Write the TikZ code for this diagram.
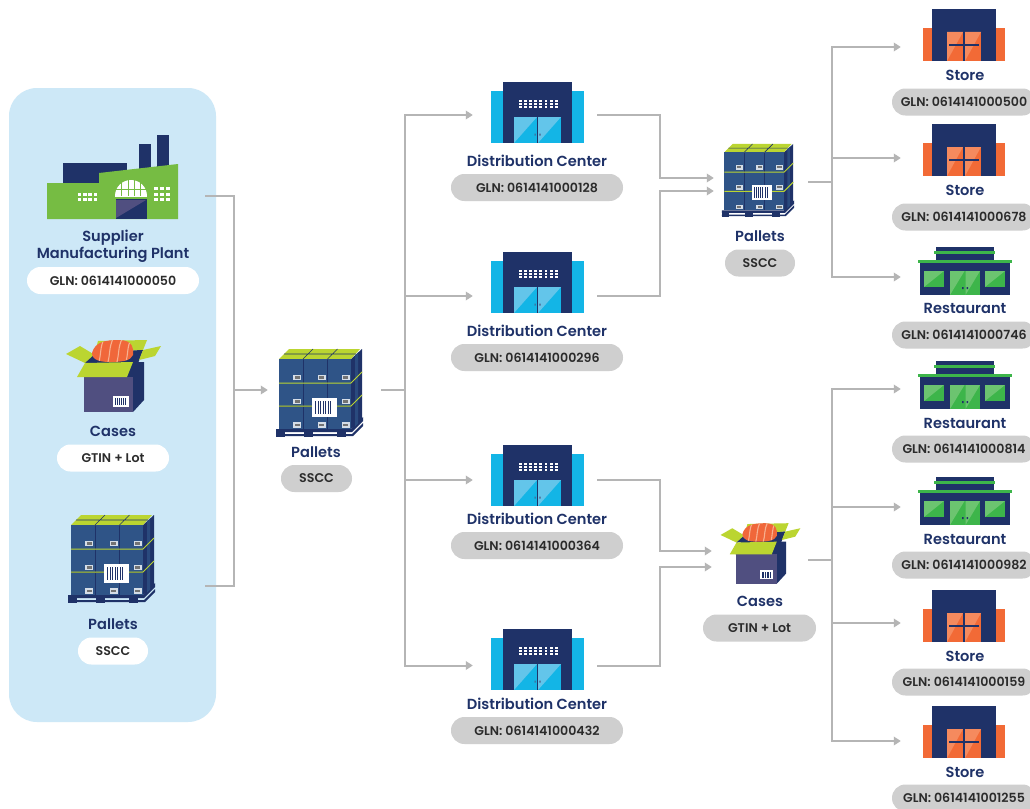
\documentclass[tikz,border=0pt]{standalone}
\usepackage{fontspec}
\setmainfont{Poppins}[BoldFont={Poppins SemiBold}]
\usetikzlibrary{arrows.meta}
\definecolor{panel}{HTML}{CDE8F7}
\definecolor{navy}{HTML}{1F3268}
\definecolor{pillgrey}{HTML}{CFCFCF}
\definecolor{pilltext}{HTML}{2B2B2B}
\definecolor{linegrey}{HTML}{B5B5B5}
\definecolor{facgreen}{HTML}{76BC43}
\definecolor{lime}{HTML}{BBD531}
\definecolor{purplebox}{HTML}{504F80}
\definecolor{palblue}{HTML}{2F5487}
\definecolor{dcblue}{HTML}{13B5E6}
\definecolor{dclight}{HTML}{63C5EA}
\definecolor{storeor}{HTML}{F26A36}
\definecolor{storelt}{HTML}{F58A5E}
\definecolor{salmon}{HTML}{F0673A}
\definecolor{salmonlt}{HTML}{F7B08F}
\definecolor{rgreen}{HTML}{3DB54A}
\definecolor{rlight}{HTML}{6CC470}
\tikzset{
  x=1pt,y=-1pt,
  title/.style={font=\bfseries\fontsize{14.6}{17}\selectfont,text=navy,inner sep=0pt,align=center},
  pilltxt/.style={font=\bfseries\fontsize{12.6}{14}\selectfont,text=pilltext,inner sep=0pt,minimum height=27pt,rounded corners=13.4pt},
  greypill/.style={pilltxt,fill=pillgrey},
  whitepill/.style={pilltxt,fill=white},
  hub/.style={inner sep=0pt,minimum height=40pt},
  conn/.style={draw=linegrey,line width=2pt},
  arrowed/.style={conn,-{Triangle[length=7pt,width=8.5pt]}},
  pics/dcicon/.style={code={
    \fill[dcblue] (-46.5,-52) rectangle (46.5,0);
    \fill[navy] (-34.5,-61) rectangle (34.5,0);
    \fill[dcblue] (-23.5,-26) rectangle (23.5,0);
    \fill[dclight] (-23.5,0) -- (-23.5,-26) -- (-0.5,-26) -- cycle;
    \fill[dclight] (0.5,0) -- (0.5,-26) -- (23.5,-26) -- cycle;
    \fill[navy] (-0.4,-26) rectangle (0.4,0);
    \fill[navy!80] (-3,-9.5) rectangle (-1.8,-7.5) (1.8,-9.5) rectangle (3,-7.5);
    \foreach \i in {0,...,7}{\foreach \j in {0,1,2}{
      \fill[white] (-18.5+\i*5.1,-43+\j*3) rectangle ++(2.9,2);}}
  }},
  pics/storeicon/.style={code={
    \fill[storeor] (-41,-33) rectangle (41,0);
    \fill[navy] (-32,-52) rectangle (32,0);
    \fill[storeor] (-17,-29) rectangle (17,0);
    \fill[storelt] (-17,0) -- (-17,-29) -- (-1,-29) -- cycle;
    \fill[storelt] (1,0) -- (1,-29) -- (17,-29) -- cycle;
    \fill[navy] (-0.8,-29) rectangle (0.8,0);
    \fill[navy] (-15,-16.6) rectangle (15,-15.4);
  }},
  pics/resticon/.style={code={
    \fill[navy] (-29,-48) rectangle (29,-35);
    \fill[rgreen] (-31,-44) rectangle (30,-41);
    \fill[navy] (-45,-33) rectangle (45,0);
    \fill[rgreen] (-47,-35) rectangle (47,-32);
    \foreach \a in {-41,20}{
      \fill[rgreen] (\a,-24) rectangle ++(20,16);
      \fill[rlight] (\a,-8) -- (\a,-24) -- (\a+20,-24) -- cycle;}
    \fill[rgreen] (-15,-24) rectangle (15,0);
    \fill[rlight] (-15,0) -- (-15,-24) -- (-0.5,-24) -- cycle;
    \fill[rlight] (0.5,0) -- (0.5,-24) -- (15,-24) -- cycle;
    \fill[navy] (-3,-8) rectangle (-1.5,-6) (1.5,-8) rectangle (3,-6);
  }},
  pics/factoryicon/.style={code={
    \fill[navy] (63,163) rectangle (127,185);
    \fill[navy] (139,144) rectangle (151,172);
    \fill[navy] (157,135) rectangle (169,170);
    \fill[facgreen] (47,183) -- (99,183) -- (99,173) -- (178,164) -- (178,219) -- (47,219) -- cycle;
    \begin{scope}
      \clip (115,196) rectangle (147,180);
      \fill[white] (131,196) ellipse [x radius=16,y radius=16];
    \end{scope}
    \draw[facgreen,line width=.9pt] (115,189) -- (147,189) (121.5,178) -- (121.5,196) (128,178) -- (128,196) (134,178) -- (134,196) (140.5,178) -- (140.5,196);
    \fill[navy] (116,199) rectangle (147,219);
    \fill[purplebox] (116,218) -- (116,200) -- (146,200) -- cycle;
    \foreach \i in {0,...,3}{\foreach \j in {0,1}{
      \fill[white] (78+\i*5.2,193+\j*5) rectangle ++(3.4,3);}}
    \foreach \i in {0,1,2}{\foreach \j in {0,1,2}{
      \fill[white] (154+\i*6,187+\j*5.5) rectangle ++(3.6,3.4);}}
  }},
  pics/boxicon/.style={code={
    \fill[navy] (-18,-33) -- (30,-35) -- (20,-8) -- (-29,-8) -- cycle;
    \fill[lime] (-47,-31) -- (-33,-39) -- (-18,-30) -- (-28,-22) -- cycle;
    \fill[lime] (-15,-44) -- (34,-45) -- (30,-35) -- (-18,-33) -- cycle;
    \fill[lime] (30,-35) -- (48,-39) -- (42,-29) -- (26,-25) -- cycle;
    \fill[navy] (-18,-31) -- (30,-35) -- (20,-23) -- (-28,-22) -- cycle;
    \begin{scope}
      \clip (-21,-32) .. controls (-18,-43) and (-8,-45) .. (6,-45) .. controls (20,-45) and (21,-36) .. (20,-30) .. controls (18,-24) and (8,-23) .. (-3,-23) .. controls (-13,-23) and (-21,-25) .. (-21,-32) -- cycle;
      \fill[salmon] (-22,-46) rectangle (22,-22);
      \foreach \a in {-14,-5,4,13}{
        \draw[salmonlt,line width=1.1pt] (\a,-23) .. controls (\a+2,-30) and (\a+1,-38) .. (\a+5,-46);}
    \end{scope}
    \fill[navy] (20,-23) -- (31,-23) -- (31,15) -- (20,27) -- (20,-8) -- cycle;
    \fill[purplebox] (-29,-8) rectangle (20,27);
    \fill[lime] (-29,-8) -- (-36,-8) -- (-28,-22) -- (20,-23) -- (14,-8) -- cycle;
    \fill[white] (0,11) rectangle (16,22);
    \foreach \k in {2,4,...,13}{\fill[navy] (\k,13) rectangle ++(1,7);}
  }},
  pics/palleticon/.style={code={
    % pallet base
    \fill[navy] (-40,39) -- (35,39) -- (47,27) -- (47,31) -- (36,42) -- (-40,42) -- cycle;
    \fill[navy] (-40,44) -- (36,44) -- (47,33) -- (47,36) -- (37,46) -- (-40,46) -- cycle;
    \foreach \a in {-40,-12,21}{\fill[navy] (\a,41) rectangle ++(9,6);}
    % side and top
    \fill[navy] (-37,-31) rectangle (35,39);
    \fill[navy] (35,-31) -- (46,-41) -- (46,30) -- (35,39) -- cycle;
    \fill[palblue!70!navy] (39,-34.5) -- (42,-37.5) -- (42,33.5) -- (39,36.5) -- cycle;
    \fill[lime] (-37,-31) -- (-27,-41) -- (44,-41) -- (35,-31) -- cycle;
    \draw[navy,line width=.6pt] (-13,-31) -- (-3,-41) (11.5,-31) -- (21.5,-41) (-32,-36) -- (40,-36);
    \foreach \c/\w in {-37/24,-12.5/23.5,11.5/23.5}{
      \foreach \r/\h in {-31/23.5,-7/23,16.5/22.5}{
        \fill[palblue] (\c,\r) rectangle ++(\w,\h);
        \fill[white!80!palblue] (\c+14,\r+15.5) rectangle ++(8,5.5);
        \fill[black!55] (\c+15.5,\r+17) rectangle ++(5,2.5);
      }}
    \draw[lime,line width=1pt] (-37,-7) -- (35,-7) -- (46,-18) (-37,16) -- (35,16) -- (46,5);
    \fill[white] (-4,8) rectangle (21,27);
    \foreach \k in {-1,1.5,...,16}{\fill[navy] (\k,11) rectangle ++(1.2,13);}
  }},
}
\begin{document}
\begin{tikzpicture}
\useasboundingbox (0,0) rectangle (1030,808);
\clip (0,0) rectangle (1030,808);
\fill[white] (0,0) rectangle (1030,808);
\fill[panel,rounded corners=28pt] (9,88) rectangle (216,722);

% icons
\pic at (0,0) {factoryicon};
\pic at (113,385) {boxicon};
\pic at (108,556) {palleticon};
\pic at (316,390) {palleticon};
\pic at (537.5,143) {dcicon};
\pic at (537.5,313) {dcicon};
\pic at (537.5,506) {dcicon};
\pic at (537.5,690) {dcicon};
\pic[scale=.83] at (755,178) {palleticon};
\pic[scale=.84] at (760,561) {boxicon};
\pic at (964,61) {storeicon};
\pic at (964,176) {storeicon};
\pic at (965,295) {resticon};
\pic at (965,409) {resticon};
\pic at (965,525) {resticon};
\pic at (964,642) {storeicon};
\pic at (964,758) {storeicon};

% connector anchors (invisible nodes)
\node[hub,minimum width=184pt] (plant) at (113,196) {};
\node[hub,minimum width=184pt] (palL) at (113,586) {};
\node[hub,minimum width=113pt] (pal0) at (324.5,390) {};
\node[hub,minimum width=124pt] (dc1) at (535,115) {};
\node[hub,minimum width=124pt] (dc2) at (535,296) {};
\node[hub,minimum width=124pt] (dc3) at (535,480) {};
\node[hub,minimum width=124pt] (dc4) at (535,665.5) {};
\node[hub,minimum width=94pt] (pal1) at (761,182) {};
\node[hub,minimum width=96pt] (cas1) at (760,560) {};
\node[hub,minimum width=126pt] (s1) at (964,47) {};
\node[hub,minimum width=126pt] (s2) at (964,158) {};
\node[hub,minimum width=126pt] (s3) at (964,277) {};
\node[hub,minimum width=126pt] (s4) at (964,389) {};
\node[hub,minimum width=126pt] (s5) at (964,507) {};
\node[hub,minimum width=126pt] (s6) at (964,623) {};
\node[hub,minimum width=126pt] (s7) at (964,741) {};
\coordinate (busL) at (234,390);
\coordinate (bus1) at (405,390);
\coordinate (m1) at (660,146);
\coordinate (m2) at (660,245);
\coordinate (m3) at (660,515);
\coordinate (m4) at (660,615);
\coordinate (bus2) at (832,182);
\coordinate (bus3) at (832,560);

% connectors
\draw[conn] (plant.east) -| (busL);
\draw[conn] (palL.east) -| (busL);
\draw[arrowed] (busL) -- (pal0.west);
\draw[conn] (pal0.east) -- (bus1);
\foreach \n in {dc1,dc2,dc3,dc4}{\draw[arrowed] (bus1) |- (\n.west);}
\draw[arrowed] (dc1.east) -| (m1) |- ([yshift=4pt]pal1.west);
\draw[arrowed] (dc2.east) -| (m2) |- ([yshift=-9pt]pal1.west);
\draw[arrowed] (dc3.east) -| (m3) |- ([yshift=9pt]cas1.west);
\draw[arrowed] (dc4.east) -| (m4) |- ([yshift=-7pt]cas1.west);
\draw[conn] (pal1.east) -- (bus2);
\draw[conn] (cas1.east) -- (bus3);
\foreach \n in {s1,s2,s3}{\draw[arrowed] (bus2) |- (\n.west);}
\foreach \n in {s4,s5,s6,s7}{\draw[arrowed] (bus3) |- (\n.west);}

% labels
\node[title] (t1) at (113,246.5) {Supplier\\Manufacturing Plant};
\node[whitepill,minimum width=172pt] (p1) at (113,280.5) {GLN: 0614141000050};
\node[title] (t2) at (113,431) {Cases};
\node[whitepill,minimum width=112pt] (p2) at (113,458) {GTIN + Lot};
\node[title] (t3) at (113,624) {Pallets};
\node[whitepill,minimum width=70pt] (p3) at (113,651) {SSCC};
\node[title] (t4) at (316,452) {Pallets};
\node[greypill,minimum width=71pt] (p4) at (316.5,478.5) {SSCC};
\node[title] (t5) at (537,160.5) {Distribution Center};
\node[greypill,minimum width=172pt] (p5) at (537,187.5) {GLN: 0614141000128};
\node[title] (t6) at (537,330.5) {Distribution Center};
\node[greypill,minimum width=172pt] (p6) at (537,357.5) {GLN: 0614141000296};
\node[title] (t7) at (537,518.5) {Distribution Center};
\node[greypill,minimum width=172pt] (p7) at (537,545.5) {GLN: 0614141000364};
\node[title] (t8) at (537,703.5) {Distribution Center};
\node[greypill,minimum width=172pt] (p8) at (537,730.5) {GLN: 0614141000432};
\node[title] (t9) at (760,236) {Pallets};
\node[greypill,minimum width=70pt] (p9) at (760,263) {SSCC};
\node[title] (t10) at (760,601.5) {Cases};
\node[greypill,minimum width=113pt] (p10) at (759.5,628) {GTIN + Lot};
\node[title] (t11) at (965,75) {Store};
\node[greypill,minimum width=144pt] (p11) at (964,102) {GLN: 0614141000500};
\node[title] (t12) at (965,190) {Store};
\node[greypill,minimum width=144pt] (p12) at (964,217) {GLN: 0614141000678};
\node[title] (t13) at (965,308) {Restaurant};
\node[greypill,minimum width=144pt] (p13) at (964,335) {GLN: 0614141000746};
\node[title] (t14) at (965,423) {Restaurant};
\node[greypill,minimum width=144pt] (p14) at (964,449) {GLN: 0614141000814};
\node[title] (t15) at (965,539) {Restaurant};
\node[greypill,minimum width=144pt] (p15) at (964,565) {GLN: 0614141000982};
\node[title] (t16) at (965,656) {Store};
\node[greypill,minimum width=144pt] (p16) at (964,682) {GLN: 0614141000159};
\node[title] (t17) at (965,772) {Store};
\node[greypill,minimum width=144pt] (p17) at (964,798) {GLN: 0614141001255};
\end{tikzpicture}
\end{document}
